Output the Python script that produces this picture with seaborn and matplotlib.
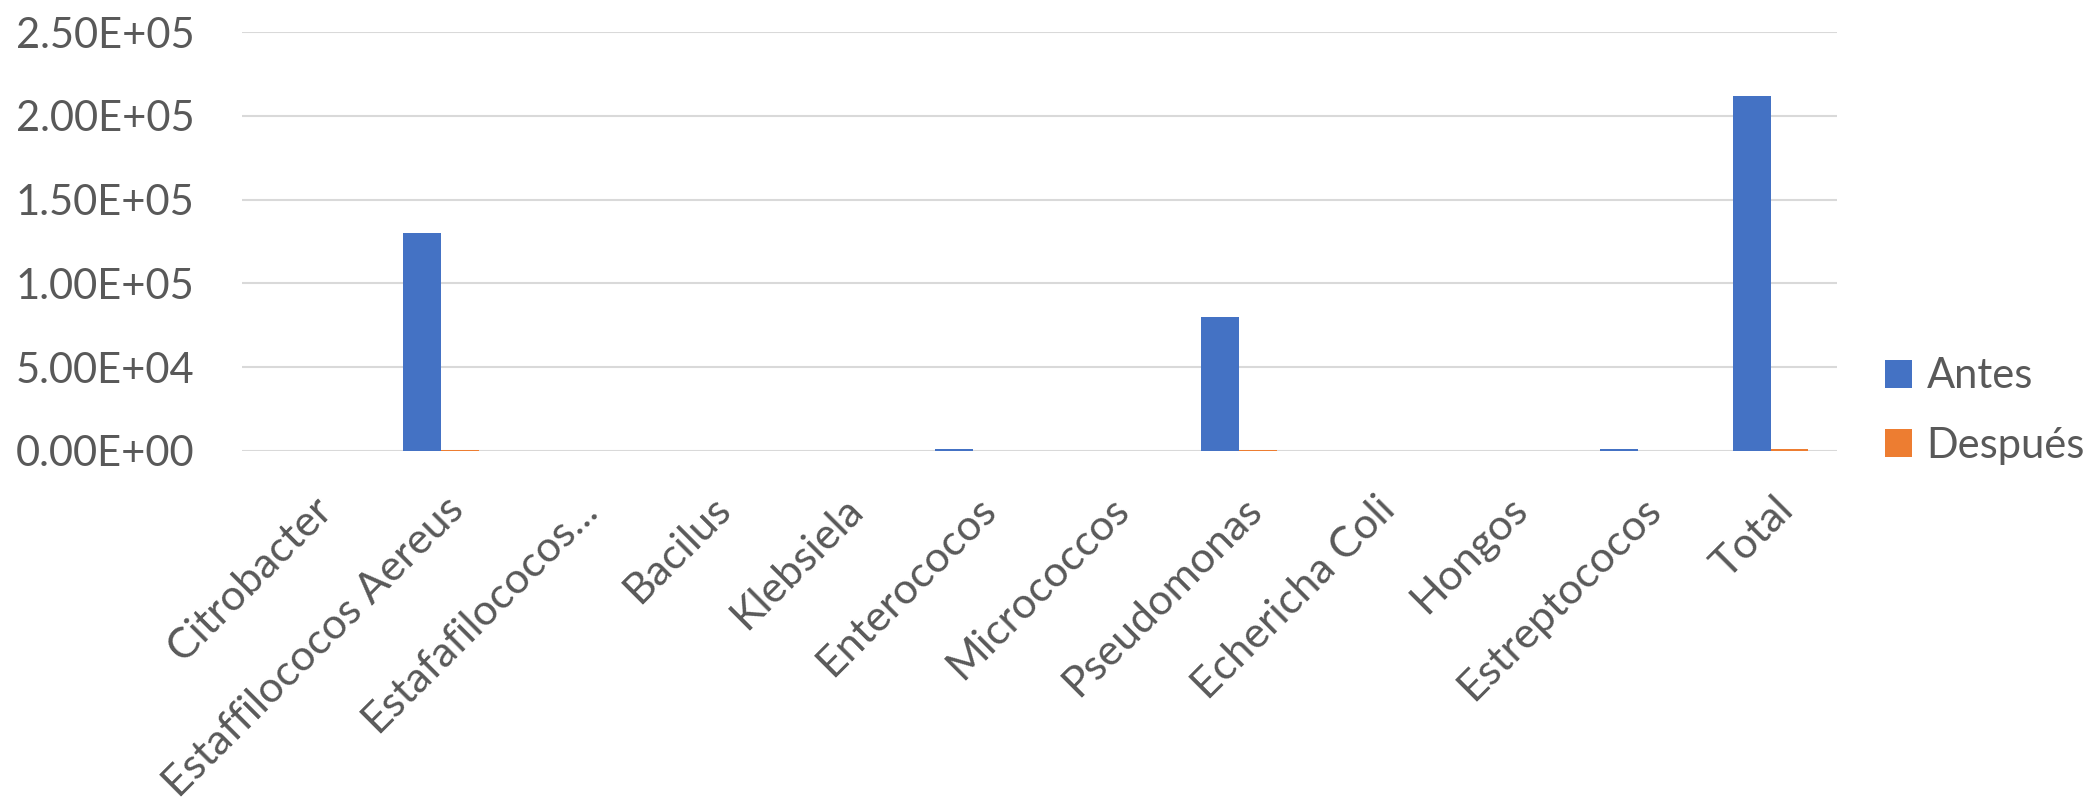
import numpy as np
import pandas as pd
import matplotlib
matplotlib.use("Agg")
import matplotlib.pyplot as plt
import matplotlib.transforms as mtransforms
import seaborn as sns

categories = ["Citrobacter", "Estaffilococos Aereus", "Estafafilococos...", "Bacilus",
              "Klebsiela", "Enterococos", "Micrococcos", "Pseudomonas",
              "Echericha Coli", "Hongos", "Estreptococos", "Total"]
antes = [150, 130000, 100, 100, 150, 1000, 100, 80000, 150, 100, 1000, 212000]
despues = [5, 300, 5, 5, 5, 20, 5, 600, 5, 10, 20, 1200]
series_names = ["Antes", "Después"]
colors = ["#4472C4", "#ED7D31"]
yticks = [0, 50000, 100000, 150000, 200000, 250000]
ytick_labels = ["0.00E+00", "5.00E+04", "1.00E+05", "1.50E+05", "2.00E+05", "2.50E+05"]

df = pd.DataFrame({
    "cat": categories * 2,
    "val": antes + despues,
    "serie": [series_names[0]] * len(categories) + [series_names[1]] * len(categories),
})

sns.set_style("white")
plt.rcParams["font.family"] = ["Lato", "DejaVu Sans"]
text_color = "#595959"

fig = plt.figure(figsize=(20.95, 8.02), dpi=100)
ax = fig.add_axes([242 / 2095, 1 - 451 / 802, (1837 - 242) / 2095, (451 - 32) / 802])

sns.barplot(data=df, x="cat", y="val", hue="serie", palette=colors, width=0.57,
            saturation=1, ax=ax, gap=0, edgecolor="none", linewidth=0)

ax.set_ylim(0, 250000)
ax.set_xlim(-0.5, len(categories) - 0.5)
ax.set_yticks(yticks)
ax.set_yticklabels(ytick_labels, fontsize=30, color=text_color)
ax.yaxis.grid(True, color="#D9D9D9", linewidth=1.5)
ax.set_axisbelow(True)
for s in ax.spines.values():
    s.set_visible(False)
ax.tick_params(axis="y", length=0, pad=34)
ax.tick_params(axis="x", length=0, pad=28)
ax.set_xlabel("")
ax.set_ylabel("")
ax.set_xticks(range(len(categories)))
ax.set_xticklabels(categories, rotation=45, ha="right", va="top", fontsize=31, color=text_color)
offset = mtransforms.ScaledTranslation(30 / 100, 0, fig.dpi_scale_trans)
for lbl in ax.get_xticklabels():
    lbl.set_transform(lbl.get_transform() + offset)

handles, labels = ax.get_legend_handles_labels()
ax.get_legend().remove()
leg = fig.legend(handles, labels, loc="center left", bbox_to_anchor=(1885 / 2095, 1 - 411 / 802),
                 frameon=False, fontsize=30, handlelength=0.65, handleheight=0.65,
                 handletextpad=0.35, labelspacing=0.75, borderpad=0, borderaxespad=0)
for t in leg.get_texts():
    t.set_color(text_color)

fig.savefig("out.png", dpi=100)
